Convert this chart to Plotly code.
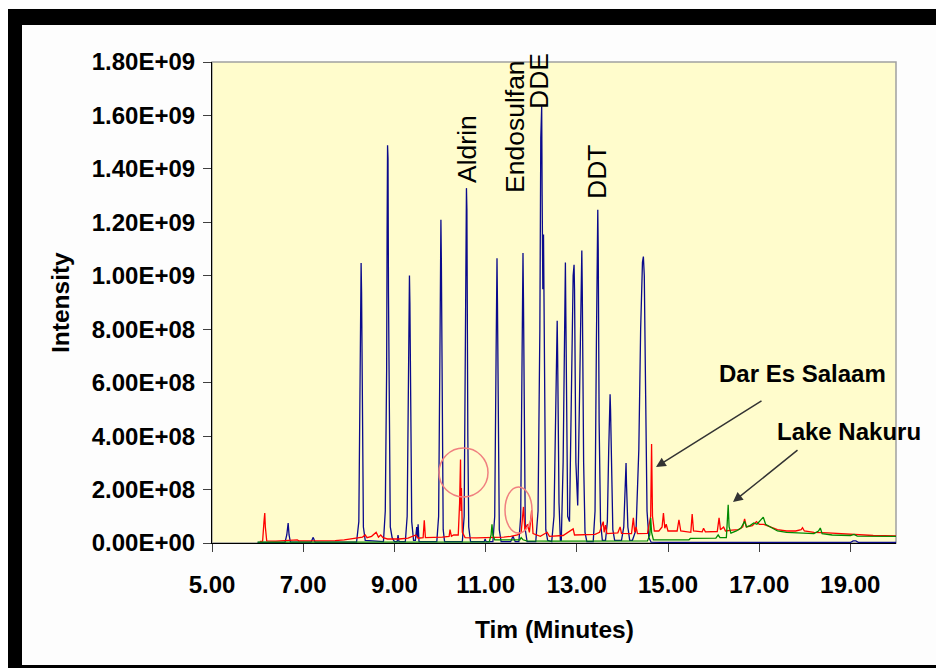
import plotly.graph_objects as go

# ---------------- data ----------------
# retention time in minutes, intensity in units of 1E+09
blue_time = [6.00, 6.60, 6.64, 6.67, 6.69, 6.72, 7.17, 7.22, 7.26,
             8.17, 8.22, 8.25, 8.26, 8.27, 8.28, 8.30, 8.32, 8.36,
             8.76, 8.80, 8.83, 8.84, 8.85, 8.86, 8.87, 8.89, 8.91, 8.95, 9.00,
             9.06, 9.08, 9.10,
             9.24, 9.28, 9.31, 9.32, 9.33, 9.34, 9.36, 9.38, 9.42,
             9.46, 9.49, 9.505, 9.52, 9.54,
             9.93, 9.97, 10.00, 10.01, 10.02, 10.03, 10.05, 10.07, 10.10,
             10.49, 10.53, 10.56, 10.57, 10.58, 10.59, 10.61, 10.63, 10.67,
             10.97, 10.99, 11.01,
             11.16, 11.20, 11.23, 11.24, 11.25, 11.26, 11.28, 11.30, 11.34,
             11.55, 11.60, 11.65,
             11.73, 11.77, 11.80, 11.81, 11.82, 11.83, 11.85, 11.87, 11.91,
             12.10, 12.15, 12.19, 12.21, 12.23, 12.24, 12.255, 12.27, 12.28, 12.30, 12.32, 12.36,
             12.45, 12.50, 12.55, 12.57, 12.58, 12.61, 12.64,
             12.66, 12.70, 12.73, 12.75, 12.76, 12.80, 12.84, 12.88, 12.92, 12.94, 12.95,
             12.98, 13.02, 13.06, 13.09, 13.11, 13.12, 13.15, 13.18, 13.22,
             13.36, 13.40, 13.43, 13.45, 13.46, 13.47, 13.49, 13.52, 13.56,
             13.63, 13.67, 13.70, 13.72, 13.73, 13.74, 13.76, 13.79, 13.83,
             13.98, 14.03, 14.06, 14.08, 14.09, 14.12, 14.16,
             14.22, 14.30, 14.36, 14.40, 14.44, 14.46, 14.48, 14.51, 14.54, 14.58, 14.63,
             15.00, 19.00, 19.06, 19.12, 19.18, 20.00]
blue_intensity = [0.002, 0.002, 0.030, 0.075, 0.030, 0.003, 0.003, 0.021, 0.003,
                  0.003, 0.080, 0.550, 0.800, 1.048, 0.940, 0.450, 0.060, 0.010,
                  0.005, 0.120, 0.650, 1.160, 1.488, 1.440, 0.940, 0.250, 0.060, 0.020, 0.005,
                  0.005, 0.030, 0.005,
                  0.005, 0.100, 0.550, 0.850, 1.001, 0.900, 0.350, 0.080, 0.010,
                  0.010, 0.060, 0.020, 0.070, 0.005,
                  0.005, 0.100, 0.750, 1.050, 1.210, 1.050, 0.350, 0.050, 0.005,
                  0.005, 0.100, 0.750, 1.100, 1.328, 1.250, 0.400, 0.060, 0.005,
                  0.005, 0.015, 0.005,
                  0.005, 0.100, 0.700, 0.950, 1.066, 0.900, 0.300, 0.050, 0.005,
                  0.005, 0.025, 0.005,
                  0.005, 0.100, 0.700, 0.950, 1.085, 0.920, 0.300, 0.050, 0.005,
                  0.005, 0.120, 0.800, 1.515, 1.634, 1.300, 0.950, 1.154, 0.900, 0.300, 0.050, 0.010,
                  0.005, 0.100, 0.650, 0.832, 0.700, 0.150, 0.010,
                  0.010, 0.300, 0.850, 1.050, 0.850, 0.100, 0.080, 0.550, 1.000, 1.041, 0.950,
                  0.300, 0.140, 0.550, 1.000, 1.095, 0.950, 0.300, 0.040, 0.005,
                  0.005, 0.120, 0.750, 1.100, 1.247, 1.100, 0.450, 0.080, 0.010,
                  0.010, 0.080, 0.350, 0.520, 0.557, 0.500, 0.250, 0.050, 0.010,
                  0.010, 0.060, 0.220, 0.299, 0.220, 0.060, 0.010,
                  0.010, 0.050, 0.350, 0.800, 1.050, 1.072, 1.000, 0.550, 0.120, 0.020, 0.003,
                  0.002, 0.002, 0.008, 0.008, 0.002, 0.002]

red_time = [6.05, 6.11, 6.14, 6.157, 6.17, 6.20, 6.40, 6.60, 6.87, 6.90, 7.20, 7.50, 7.70, 7.90,
            8.05, 8.20, 8.30, 8.36, 8.40, 8.50, 8.60, 8.65, 8.70, 8.75, 8.85, 9.10, 9.30,
            9.47, 9.52, 9.63, 9.655, 9.68, 9.90, 10.05, 10.20, 10.22, 10.25, 10.30, 10.40,
            10.43, 10.45, 10.46, 10.47, 10.49, 10.55, 10.80, 11.00, 11.20, 11.40, 11.55,
            11.70, 11.78, 11.83, 11.86, 11.92, 11.96, 12.01, 12.04, 12.20, 12.35, 12.40,
            12.70, 12.92, 12.95, 13.20, 13.40, 13.50, 13.58, 13.60, 13.63, 13.66, 13.90,
            13.95, 13.98, 14.20, 14.24, 14.27, 14.30, 14.33, 14.55, 14.62, 14.64, 14.66,
            14.70, 14.80, 14.87, 14.90, 14.93, 14.96, 15.00, 15.20, 15.24, 15.28, 15.50,
            15.53, 15.56, 15.75, 15.78, 15.82, 16.08, 16.12, 16.15, 16.22, 16.26, 16.40,
            16.55, 16.64, 16.68, 16.72, 16.85, 16.94, 17.00, 17.10, 17.25, 17.40, 17.60,
            17.80, 17.92, 17.95, 17.99, 18.20, 18.50, 18.80, 19.10, 19.50, 20.00]
red_intensity = [0.006, 0.007, 0.080, 0.112, 0.060, 0.008, 0.007, 0.008, 0.012, 0.008, 0.008, 0.010, 0.009, 0.012,
                 0.015, 0.018, 0.022, 0.030, 0.020, 0.025, 0.040, 0.022, 0.030, 0.020, 0.015, 0.015, 0.018,
                 0.030, 0.018, 0.020, 0.085, 0.020, 0.020, 0.022, 0.025, 0.050, 0.025, 0.030, 0.030,
                 0.150, 0.312, 0.120, 0.206, 0.040, 0.020, 0.019, 0.020, 0.020, 0.022, 0.025,
                 0.030, 0.040, 0.135, 0.050, 0.070, 0.040, 0.122, 0.035, 0.025, 0.040, 0.025,
                 0.028, 0.053, 0.030, 0.030, 0.032, 0.040, 0.080, 0.040, 0.067, 0.035, 0.038,
                 0.060, 0.036, 0.035, 0.094, 0.040, 0.060, 0.035, 0.036, 0.100, 0.370, 0.100,
                 0.045, 0.045, 0.060, 0.112, 0.055, 0.070, 0.045, 0.045, 0.087, 0.045, 0.040,
                 0.108, 0.045, 0.042, 0.055, 0.042, 0.043, 0.094, 0.050, 0.060, 0.045, 0.048,
                 0.050, 0.060, 0.090, 0.060, 0.065, 0.080, 0.070, 0.070, 0.060, 0.050, 0.045,
                 0.045, 0.050, 0.057, 0.045, 0.040, 0.038, 0.035, 0.030, 0.028, 0.027]

green_time = [6.00, 8.00, 10.00, 11.08, 11.12, 11.14, 11.16, 11.20, 11.75, 11.78, 11.82, 11.90,
              12.50, 13.50, 14.55, 14.60, 14.62, 14.64, 14.68, 15.46, 15.49, 16.05, 16.10, 16.14,
              16.28, 16.30, 16.32, 16.34, 16.38, 16.50, 16.60, 16.68, 16.72, 16.80, 16.88, 16.95,
              17.05, 17.09, 17.14, 17.25, 17.40, 17.60, 17.89, 18.20, 18.30, 18.34, 18.38, 18.60,
              19.00, 19.08, 19.15, 19.50, 20.00]
green_intensity = [0.003, 0.003, 0.004, 0.004, 0.030, 0.070, 0.030, 0.012, 0.012, 0.020, 0.012, 0.008,
                   0.007, 0.007, 0.008, 0.030, 0.094, 0.040, 0.012, 0.012, 0.017, 0.018, 0.030, 0.020,
                   0.020, 0.080, 0.143, 0.060, 0.037, 0.045, 0.056, 0.081, 0.060, 0.065, 0.075, 0.070,
                   0.090, 0.097, 0.070, 0.060, 0.045, 0.040, 0.037, 0.035, 0.045, 0.056, 0.035, 0.030,
                   0.028, 0.032, 0.026, 0.025, 0.025]

INTENSITY_UNIT = 1e9

x_tick_values = [5, 7, 9, 11, 13, 15, 17, 19]
x_tick_labels = ["5.00", "7.00", "9.00", "11.00", "13.00", "15.00", "17.00", "19.00"]
y_tick_values = [0, 2e8, 4e8, 6e8, 8e8, 1.0e9, 1.2e9, 1.4e9, 1.6e9, 1.8e9]
y_tick_labels = ["0.00E+00", "2.00E+08", "4.00E+08", "6.00E+08", "8.00E+08",
                 "1.00E+09", "1.20E+09", "1.40E+09", "1.60E+09", "1.80E+09"]

compound_labels = ["Aldrin", "Endosulfan", "DDE", "DDT"]
site_labels = ["Dar Es Salaam", "Lake Nakuru"]

# ---------------- layout geometry (page pixels) ----------------
PAGE_W, PAGE_H = 944, 668
BODY = 8                                # default body margin of the html page
W, H = PAGE_W - BODY, PAGE_H - BODY     # figure size
PX0, PX1, PY0, PY1 = 212, 896, 62, 543  # plot area on the page
ML, MT = PX0 - BODY, PY0 - BODY
MR, MB = W - (PX1 - BODY), H - (PY1 - BODY)
XMIN, XMAX = 5, 20
YMAX = 1.8e9


def px_x(px):       # page pixel -> paper x
    return (px - PX0) / (PX1 - PX0)


def px_y(py):       # page pixel -> paper y
    return (PY1 - py) / (PY1 - PY0)


def dx(px):         # page pixel -> data x
    return XMIN + px_x(px) * (XMAX - XMIN)


def dy(py):         # page pixel -> data y
    return px_y(py) * YMAX


FONT = "Liberation Sans, Arial, sans-serif"

fig = go.Figure()
for t, v, col in [(blue_time, blue_intensity, "#0a0a8c"),
                  (red_time, red_intensity, "#ff0000"),
                  (green_time, green_intensity, "#008a00")]:
    fig.add_trace(go.Scatter(x=t, y=[val * INTENSITY_UNIT for val in v], mode="lines",
                             line=dict(color=col, width=1.3), showlegend=False,
                             hoverinfo="skip"))

shapes = [
    # plot border (grey top/right)
    dict(type="rect", xref="paper", yref="paper", x0=0, y0=0, x1=1, y1=1,
         line=dict(color="#a0a0a0", width=1.5), layer="below"),
    # circles around peaks
    dict(type="circle", xref="x", yref="y", x0=dx(439), x1=dx(488), y0=dy(497), y1=dy(448),
         line=dict(color="#f08080", width=1.5)),
    dict(type="circle", xref="x", yref="y", x0=dx(505), x1=dx(532), y0=dy(533), y1=dy(487),
         line=dict(color="#f08080", width=1.5)),
    # black frame (top, left, bottom)
    dict(type="rect", xref="paper", yref="paper", x0=px_x(7), x1=px_x(PAGE_W + 5),
         y0=px_y(25), y1=px_y(9), fillcolor="black", line=dict(width=0), layer="above"),
    dict(type="rect", xref="paper", yref="paper", x0=px_x(7), x1=px_x(22),
         y0=px_y(PAGE_H + 5), y1=px_y(9), fillcolor="black", line=dict(width=0), layer="above"),
    dict(type="rect", xref="paper", yref="paper", x0=px_x(7), x1=px_x(PAGE_W + 5),
         y0=px_y(PAGE_H + 5), y1=px_y(665), fillcolor="black", line=dict(width=0), layer="above"),
]

annotations = []
# rotated compound labels
for text, (cx, cy) in zip(compound_labels, [(467, 149), (515, 127), (539, 81), (597, 172)]):
    annotations.append(dict(x=dx(cx), y=dy(cy), xref="x", yref="y", text=text,
                            textangle=-90, showarrow=False, xanchor="center", yanchor="middle",
                            font=dict(family=FONT, size=26.5, color="black")))
# site labels
for text, (cx, cy) in zip(site_labels, [(802, 373), (849, 431)]):
    annotations.append(dict(x=dx(cx), y=dy(cy), xref="x", yref="y", text=text,
                            showarrow=False, xanchor="center", yanchor="middle",
                            font=dict(family=FONT, size=24, color="black", weight="bold")))
# arrows
for (hx, hy), (tx, ty) in [((656, 467), (763, 400)), ((733, 502), (799, 449))]:
    annotations.append(dict(x=dx(hx), y=dy(hy), ax=dx(tx), ay=dy(ty), xref="x", yref="y",
                            axref="x", ayref="y", text="", showarrow=True,
                            arrowhead=2, arrowsize=1.3, arrowwidth=1.5, arrowcolor="#333333"))
# axis titles
annotations.append(dict(x=px_x(60), y=px_y(303), xref="paper", yref="paper", text="Intensity",
                        textangle=-90, showarrow=False, xanchor="center", yanchor="middle",
                        font=dict(family=FONT, size=24.5, color="black", weight="bold")))
annotations.append(dict(x=px_x(554), y=px_y(629), xref="paper", yref="paper", text="Tim (Minutes)",
                        showarrow=False, xanchor="center", yanchor="middle",
                        font=dict(family=FONT, size=24.5, color="black", weight="bold")))

fig.update_layout(
    width=W, height=H,
    margin=dict(l=ML, r=MR, t=MT, b=MB, pad=0),
    paper_bgcolor="#fdfdfd", plot_bgcolor="#fffccc",
    showlegend=False,
    shapes=shapes, annotations=annotations,
    xaxis=dict(range=[XMIN, XMAX], tickvals=x_tick_values, ticktext=x_tick_labels,
               showgrid=False, zeroline=False, showline=True, linecolor="black", linewidth=1,
               ticks="outside", ticklen=8, tickcolor="#404040", tickwidth=1,
               ticklabelstandoff=12,
               tickfont=dict(family=FONT, size=24, color="black", weight="bold")),
    yaxis=dict(range=[0, YMAX], tickvals=y_tick_values, ticktext=y_tick_labels,
               showgrid=False, zeroline=False, showline=True, linecolor="black", linewidth=1,
               ticks="outside", ticklen=8, tickcolor="#404040", tickwidth=1,
               ticklabelstandoff=3,
               tickfont=dict(family=FONT, size=24, color="black", weight="bold")),
)

fig.write_html("out.html")
